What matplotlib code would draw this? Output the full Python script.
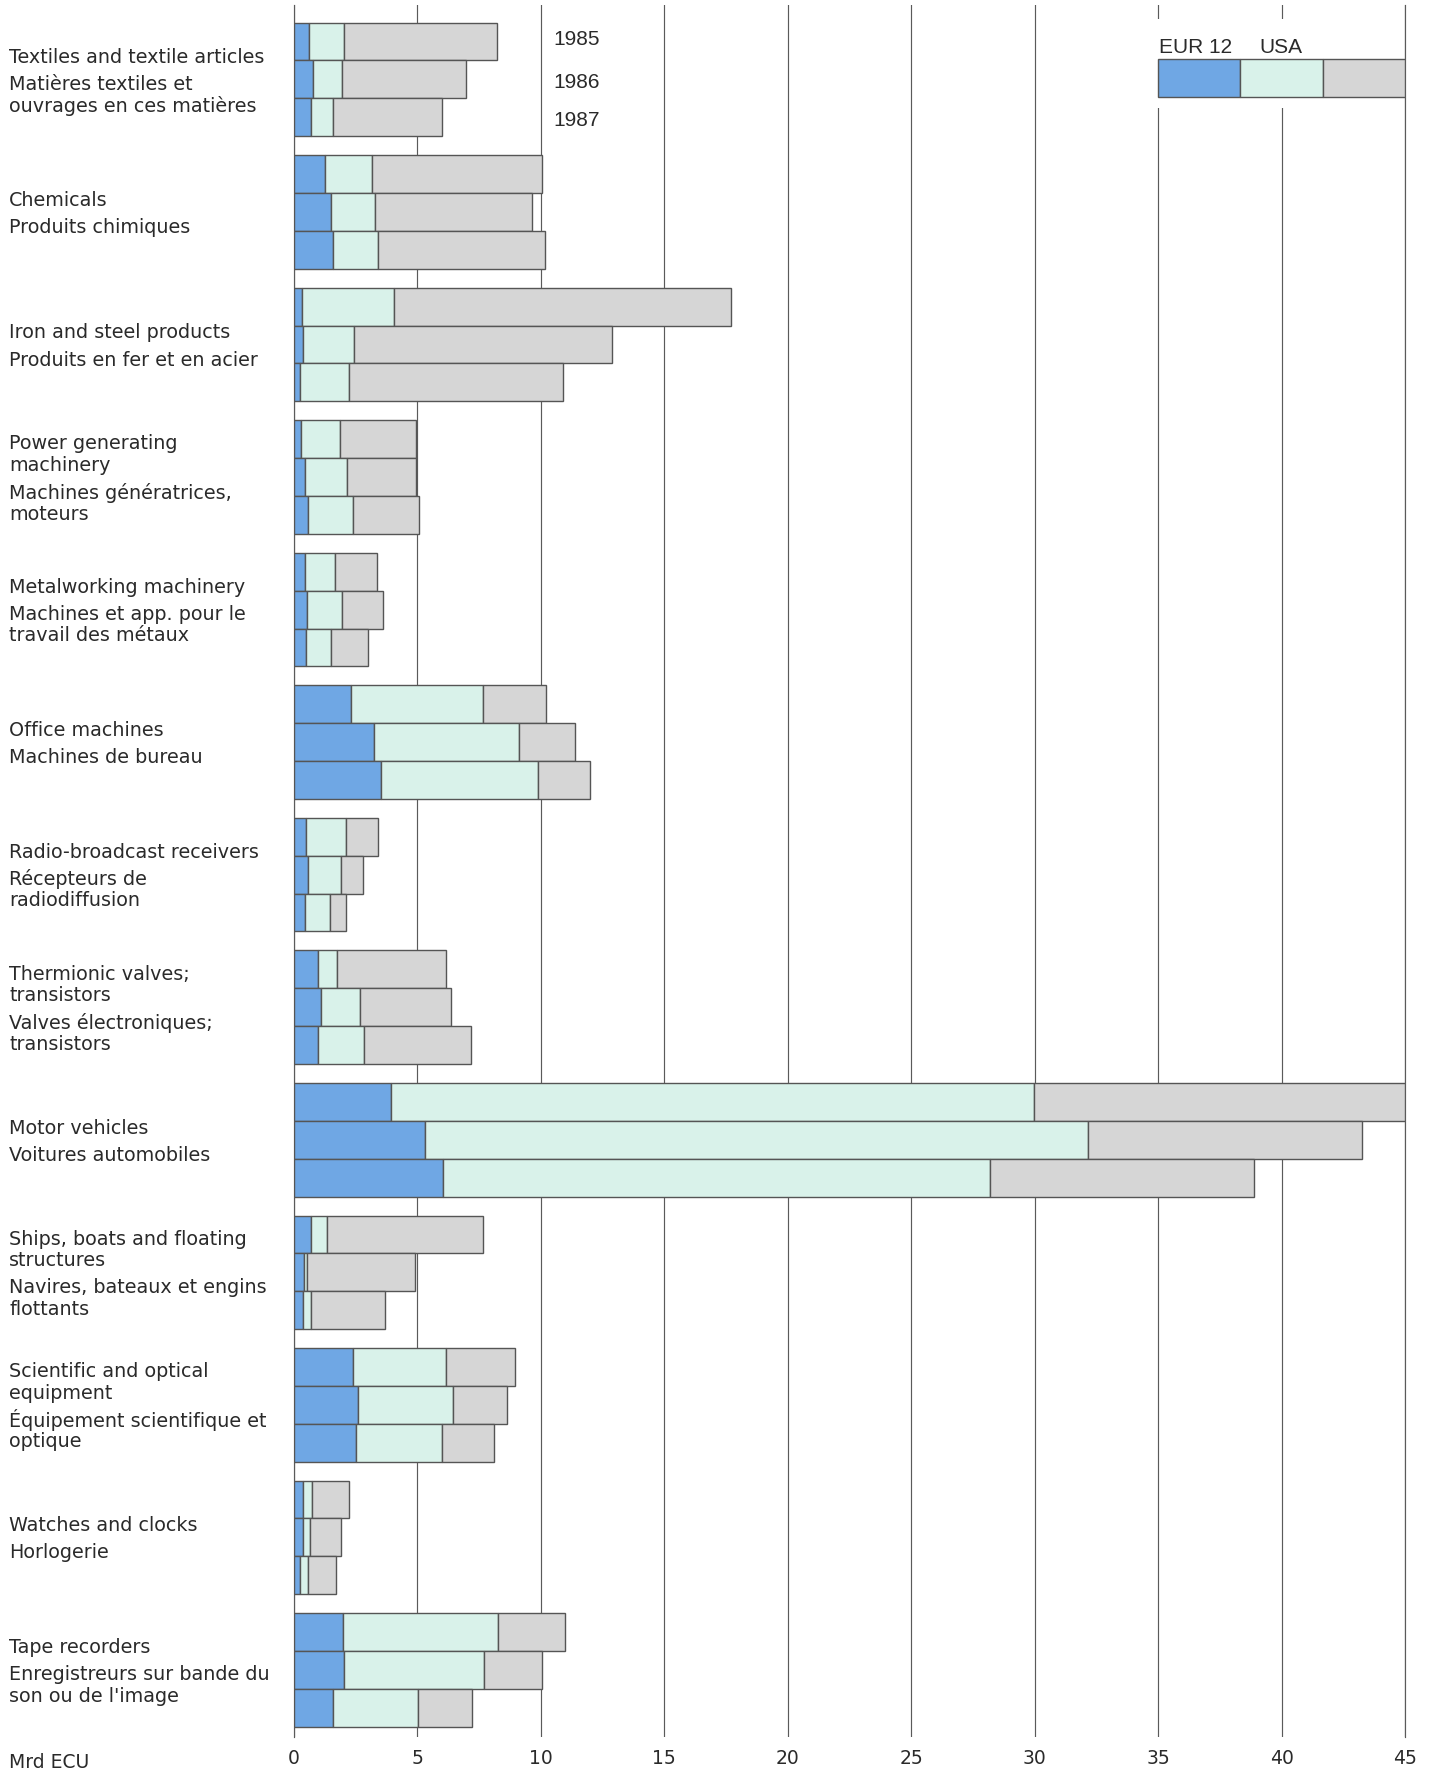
import matplotlib
matplotlib.use("Agg")
import matplotlib.pyplot as plt
from matplotlib.patches import Rectangle

# ---------------- data (Mrd ECU) ----------------
years = ["1985", "1986", "1987"]
series_names = ["EUR 12", "USA", ""]

labels_en = [
    ["Textiles and textile articles"],
    ["Chemicals"],
    ["Iron and steel products"],
    ["Power generating", "machinery"],
    ["Metalworking machinery"],
    ["Office machines"],
    ["Radio-broadcast receivers"],
    ["Thermionic valves;", "transistors"],
    ["Motor vehicles"],
    ["Ships, boats and floating", "structures"],
    ["Scientific and optical", "equipment"],
    ["Watches and clocks"],
    ["Tape recorders"],
]
labels_fr = [
    ["Matières textiles et", "ouvrages en ces matières"],
    ["Produits chimiques"],
    ["Produits en fer et en acier"],
    ["Machines génératrices,", "moteurs"],
    ["Machines et app. pour le", "travail des métaux"],
    ["Machines de bureau"],
    ["Récepteurs de", "radiodiffusion"],
    ["Valves électroniques;", "transistors"],
    ["Voitures automobiles"],
    ["Navires, bateaux et engins", "flottants"],
    ["Équipement scientifique et", "optique"],
    ["Horlogerie"],
    ["Enregistreurs sur bande du", "son ou de l'image"],
]

# per category: values for 1985, 1986, 1987
eur12 = [
    [0.61, 0.76, 0.67],
    [1.24, 1.50, 1.56],
    [0.32, 0.37, 0.24],
    [0.30, 0.46, 0.58],
    [0.46, 0.51, 0.50],
    [2.31, 3.26, 3.53],
    [0.50, 0.58, 0.44],
    [0.97, 1.09, 0.98],
    [3.93, 5.30, 6.04],
    [0.70, 0.40, 0.36],
    [2.38, 2.60, 2.52],
    [0.35, 0.38, 0.26],
    [1.97, 2.02, 1.57],
]
usa = [
    [1.43, 1.19, 0.89],
    [1.91, 1.77, 1.84],
    [3.72, 2.08, 1.99],
    [1.58, 1.69, 1.80],
    [1.22, 1.43, 0.99],
    [5.36, 5.84, 6.36],
    [1.61, 1.33, 1.00],
    [0.77, 1.57, 1.86],
    [26.04, 26.87, 22.17],
    [0.62, 0.14, 0.31],
    [3.78, 3.82, 3.47],
    [0.39, 0.25, 0.29],
    [6.31, 5.67, 3.45],
]
other = [
    [6.18, 5.01, 4.45],
    [6.89, 6.38, 6.75],
    [13.68, 10.45, 8.67],
    [3.05, 2.80, 2.68],
    [1.67, 1.68, 1.50],
    [2.52, 2.29, 2.11],
    [1.28, 0.88, 0.66],
    [4.40, 3.71, 4.31],
    [15.03, 11.07, 10.66],
    [6.34, 4.37, 3.02],
    [2.78, 2.22, 2.13],
    [1.47, 1.29, 1.15],
    [2.70, 2.35, 2.18],
]
xticks = [0, 5, 10, 15, 20, 25, 30, 35, 40, 45]
unit_label = "Mrd ECU"

# ---------------- style ----------------
C_EUR = "#6fa7e4"
C_USA = "#d9f2ea"
C_OTH = "#d6d6d6"
EDGE = "#555555"
LINE = "#5a5a5a"
TXT = "#2a2a2a"
LAB_FONT = "DejaVu Sans"
NUM_FONT = "Liberation Sans"
LAB_SIZE = 13.8

W, H = 1433, 1772
fig = plt.figure(figsize=(W / 100, H / 100), dpi=100)
fig.patch.set_facecolor("white")

x0_px, x45_px = 294, 1405
top_px, bot_px = 5, 1737
ax = fig.add_axes([x0_px / W, 1 - bot_px / H, (x45_px - x0_px) / W, (bot_px - top_px) / H])

pitch = 3.5
ax.set_xlim(0, 45)
ax.set_ylim(44.77, -0.965)

for i in range(len(eur12)):
    for j in range(3):
        y = i * pitch + j
        e, u, o = eur12[i][j], usa[i][j], other[i][j]
        ax.barh(y, e, left=0, height=1.0, color=C_EUR, edgecolor=EDGE, linewidth=1.0, zorder=3)
        ax.barh(y, u, left=e, height=1.0, color=C_USA, edgecolor=EDGE, linewidth=1.0, zorder=3)
        ax.barh(y, o, left=e + u, height=1.0, color=C_OTH, edgecolor=EDGE, linewidth=1.0, zorder=3)

# grid
ax.set_axisbelow(True)
ax.set_xticks(xticks)
ax.xaxis.grid(True, color=LINE, linewidth=0.85, zorder=0.5)
ax.yaxis.grid(False)
ax.set_yticks([])
for s in ["top", "bottom"]:
    ax.spines[s].set_visible(False)
for s in ["left", "right"]:
    ax.spines[s].set_color(LINE)
    ax.spines[s].set_linewidth(0.85)
ax.tick_params(axis="x", length=0, pad=9, labelsize=13.5, labelcolor=TXT)
for t in ax.get_xticklabels():
    t.set_fontfamily(LAB_FONT)

# year labels
year_y = [-0.11, 1.02, 2.04]
for yl, yy in zip(years, year_y):
    ax.text(10.5, yy, yl, fontsize=15, family=NUM_FONT, color=TXT,
            va="center_baseline", ha="left", zorder=4)

# legend (mask gridlines, three boxes)
ax.add_patch(Rectangle((34.6, -0.6), 10.33, 2.35, facecolor="white", edgecolor="none", zorder=1))
leg_w = 45 / 13.5
leg_vals = [leg_w, leg_w, leg_w]
leg_cols = [C_EUR, C_USA, C_OTH]
left = 35.0
for v, c in zip(leg_vals, leg_cols):
    ax.barh(0.963, v, left=left, height=0.99, color=c, edgecolor=EDGE, linewidth=1.0, zorder=3)
    left += v
ax.text(35.05, 0.11, series_names[0], fontsize=15, family=NUM_FONT, color=TXT,
        va="center_baseline", ha="left", zorder=4)
ax.text(39.1, 0.11, series_names[1], fontsize=15, family=NUM_FONT, color=TXT,
        va="center_baseline", ha="left", zorder=4)

# category labels
step = 15.5   # points between lines
gap = 19.5    # points between English and French blocks
for i, (en, fr) in enumerate(zip(labels_en, labels_fr)):
    center = i * pitch + 1
    offs = []
    pos = 0.0
    for k in range(len(en)):
        offs.append(pos)
        pos += step
    pos = offs[-1] + gap
    for k in range(len(fr)):
        offs.append(pos)
        pos += step
    mid = (offs[0] + offs[-1]) / 2
    lines = en + fr
    for line, o in zip(lines, offs):
        ax.annotate(line, xy=(9, center), xycoords=("figure pixels", "data"),
                    xytext=(0, -(o - mid)), textcoords="offset points",
                    fontsize=LAB_SIZE, family=LAB_FONT, color=TXT,
                    va="center_baseline", ha="left", annotation_clip=False)

fig.text(9 / W, 1 - 1761 / H, unit_label, fontsize=13.5, family=LAB_FONT, color=TXT,
         va="center_baseline", ha="left")

fig.savefig("out.png", dpi=100, facecolor="white")
